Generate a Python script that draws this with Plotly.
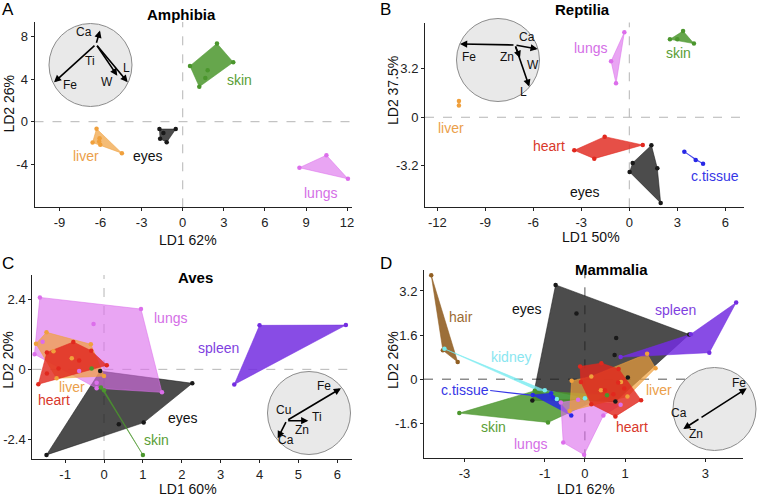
import plotly.graph_objects as go

W, H = 757, 497
FONT = "Liberation Sans, Arial, sans-serif"

# ---------------- DATA (LD1, LD2 scores; polygon vertices + interior points) -------------
# Amphibia
amph_liver = [(-6.29, -0.66), (-4.44, -2.95), (-6.58, -1.95)]
amph_liver_in = [(-6.07, -1.54), (-6.02, -2.17), (-6.1, -1.85)]
amph_eyes = [(-1.70, -0.69), (-0.51, -0.69), (-1.17, -1.92), (-1.65, -1.60)]
amph_eyes_in = [(-1.41, -1.07)]
amph_skin = [(0.53, 5.22), (2.50, 7.33), (3.69, 5.57), (1.21, 3.27)]
amph_skin_in = [(1.82, 4.81), (1.65, 4.09)]
amph_lungs = [(8.52, -4.31), (10.49, -3.14), (12.06, -5.35)]

# Reptilia
rept_liver = [(-10.65, 1.08), (-10.65, 0.78)]
rept_lungs = [(-0.31, 5.61), (-1.14, 3.69), (-0.83, 2.24)]
rept_skin = [(2.54, 5.14), (3.36, 5.69), (4.04, 4.86)]
rept_skin_in = [(3.00, 5.14)]
rept_heart = [(-3.44, -2.18), (-1.54, -1.28), (0.84, -1.83), (-2.19, -2.73)]
rept_eyes = [(1.38, -1.85), (1.75, -3.36), (1.96, -5.65), (0.02, -3.61), (0.21, -3.01)]
rept_ctissue = [(3.44, -2.27), (4.15, -2.82), (4.61, -3.06)]

# Aves
aves_lungs = [(-1.65, 2.47), (0.95, 2.07), (1.49, -0.79), (-0.19, -0.65), (-1.79, 0.52)]
aves_lungs_in = [(-0.27, 1.56), (-1.58, 0.95), (-0.19, -0.46), (-0.64, -0.06)]
aves_liver = [(-1.48, 1.27), (-0.34, 0.86), (0.00, -0.23), (-1.22, -0.31), (-1.75, 0.88)]
aves_liver_in = [(-0.83, 0.38), (-1.30, 0.62)]
aves_heart = [(-1.69, -0.51), (-1.47, 0.58), (-0.79, 0.94), (-0.33, 0.64), (0.07, 0.14)]
aves_heart_in = [(-1.47, -0.14), (-1.17, 0.03), (-0.64, 0.30)]
aves_eyes = [(-1.48, -2.94), (1.02, -1.83), (2.27, -0.48), (-0.10, -0.06)]
aves_eyes_in = [(0.38, -1.89)]
aves_spleen = [(4.00, 1.51), (6.22, 1.52), (3.35, -0.52)]
aves_skin = [(-0.08, -0.62), (1.00, -2.94), (0.00, -0.72)]
aves_skin_in = [(-0.32, 0.03)]

# Mammalia
mamm_eyes = [(-0.73, 3.42), (2.60, 1.62), (0.76, -0.81), (-1.31, -0.77)]
mamm_eyes_in = [(-0.21, 2.38), (0.78, 1.49), (0.74, 0.88), (1.07, 0.06)]
mamm_hair = [(-3.83, 3.77), (-3.17, 0.62), (-3.54, 1.05)]
mamm_kidney = [(-3.50, 1.10), (-1.00, -0.40), (0.00, -0.69), (-0.70, -0.72)]
mamm_skin = [(-3.13, -1.23), (-1.25, -0.42), (0.55, -0.58), (-0.92, -1.57)]
mamm_ctissue = [(-1.30, -0.57), (-0.84, -0.51), (-0.34, -1.32)]
mamm_ctissue_in = [(-0.80, -0.66)]
mamm_lungs = [(-0.60, -0.85), (-0.17, -0.75), (0.89, -0.93), (0.46, -1.32), (-0.02, -2.74), (-0.54, -2.30)]
mamm_liver = [(-0.33, -0.06), (0.16, 0.10), (1.55, 0.92), (1.76, 0.40), (1.06, -0.63), (-0.38, -1.15)]
mamm_liver_in = [(0.40, -0.40), (0.90, -0.10)]
mamm_heart = [(-0.12, 0.46), (0.41, 0.58), (0.84, 0.37), (1.40, -0.76), (0.76, -1.35), (0.16, -0.91), (-0.10, -0.10)]
mamm_heart_in = [(0.50, -0.40), (0.83, -0.12), (0.98, -0.34), (0.71, -0.55)]
mamm_spleen = [(0.89, 0.80), (2.64, 1.63), (3.77, 2.78), (3.10, 0.96)]

# Tick values
amph_xticks = [-9, -6, -3, 0, 3, 6, 9, 12]
amph_yticks = [-4, 0, 4, 8]
rept_xticks = [-12, -9, -6, -3, 0, 3, 6]
rept_yticks = [-3.2, 0, 3.2]
aves_xticks = [-1, 0, 1, 2, 3, 4, 5, 6]
aves_yticks = [-2.4, 0, 2.4]
mamm_xticks = [-3, -1, 0, 1, 3]
mamm_yticks = [-1.6, 0, 1.6, 3.2]

# Loading arrows in insets (element, tip offset from origin in px)
amph_load = [("Ca", 4, -13.8), ("Fe", -42, 38), ("W", 21.3, 31.4), ("L", 31.7, 38)]
rept_load = [("Fe", -55, -1), ("W", 22.7, 4), ("L", 14.3, 41.7), ("Zn", 5, 13)]
aves_load = [("Fe", 54.3, -32.4), ("Ti", 21.6, 0), ("Ca", -9, 17.6)]
mamm_load = [("Fe", 46.7, -30), ("Ca", -16.7, 10.7)]

# ---------------- STYLE ----------------
BASE = {
    "skin": (75, 150, 45), "eyes": (25, 25, 25), "liver": (240, 160, 60),
    "lungs": (220, 110, 235), "heart": (225, 40, 30), "c.tissue": (40, 40, 230),
    "spleen": (115, 45, 225), "hair": (145, 95, 35), "kidney": (120, 235, 240),
}
LABEL_COL = {
    "skin": "#5a9e35", "eyes": "#111111", "liver": "#eba04a", "lungs": "#d46ee6",
    "heart": "#d9382b", "c.tissue": "#3636e6", "spleen": "#7f3fe0", "hair": "#9c6b32",
    "kidney": "#8ae6f0",
}
ALPHA = {"eyes": 0.78, "lungs": 0.62, "liver": 0.7, "heart": 0.82, "skin": 0.85,
         "spleen": 0.85, "c.tissue": 0.85, "hair": 0.9, "kidney": 0.8}


def rgba(name, a):
    r, g, b = BASE[name]
    return f"rgba({r},{g},{b},{a})"


def px(x):
    return x / W


def py(y):
    return 1 - y / H


def fmt(v):
    return f"{v:g}"


def label(x, y, text, size, color, xref="paper", yref="paper", angle=0):
    return dict(x=x, y=y, xref=xref, yref=yref, text=text, showarrow=False,
                xanchor="center", yanchor="middle", textangle=angle,
                font=dict(family=FONT, size=size, color=color))


panels = [
    dict(title="Amphibia", letter="A", box=(34.5, 352.3, 22, 207.3),
         xr=[-10.82, 12.38], yr=[-8.02, 9.34], xt=amph_xticks, yt=amph_yticks,
         groups=[("liver", amph_liver, amph_liver_in), ("eyes", amph_eyes, amph_eyes_in),
                 ("skin", amph_skin, amph_skin_in), ("lungs", amph_lungs, [])],
         labels={"skin": (4.18, 3.91), "liver": (-7.08, -3.21), "eyes": (-2.55, -3.21),
                 "lungs": (10.07, -6.65)},
         title_pos=(181.7, 14.5), letter_pos=(7.5, 9),
         xlab="LD1 62%", xlab_pos=(188.3, 240), ylab="LD2 26%", ylab_pos=(9.3, 103.3),
         dash="#b5b5b5",
         inset=dict(c=(90.5, 65), r=41.5, o=(96, 44.3), load=amph_load,
                    text=[("Ca", 84.3, 31.7), ("Ti", 90, 61), ("Fe", 70, 85),
                          ("W", 107.3, 82.3), ("L", 126, 67.7)])),
    dict(title="Reptilia", letter="B", box=(425, 743.7, 22.5, 207.3),
         xr=[-12.77, 7.15], yr=[-5.94, 6.25], xt=rept_xticks, yt=rept_yticks,
         groups=[("liver", rept_liver, []), ("lungs", rept_lungs, []),
                 ("skin", rept_skin, rept_skin_in), ("heart", rept_heart, []),
                 ("eyes", rept_eyes, []), ("c.tissue", rept_ctissue, [])],
         labels={"lungs": (-2.41, 4.55), "skin": (3.09, 4.22), "liver": (-11.13, -0.69),
                 "heart": (-5.04, -1.87), "eyes": (-2.77, -4.91), "c.tissue": (5.34, -3.85)},
         title_pos=(582, 9), letter_pos=(385, 9),
         xlab="LD1 50%", xlab_pos=(590.7, 237), ylab="LD2 37.5%", ylab_pos=(393, 90),
         dash="#b5b5b5",
         inset=dict(c=(498, 60), r=41.5, o=(515, 45), load=rept_load,
                    text=[("Ca", 527.3, 37.3), ("Fe", 469.3, 56.7), ("Zn", 507.3, 56.7),
                          ("W", 532.7, 65), ("L", 523.3, 92.3)])),
    dict(title="Aves", letter="C", box=(32.3, 351.7, 275, 459),
         xr=[-1.845, 6.37], yr=[-3.08, 3.24], xt=aves_xticks, yt=aves_yticks,
         groups=[("eyes", aves_eyes, aves_eyes_in), ("lungs", aves_lungs, aves_lungs_in),
                 ("liver", aves_liver, aves_liver_in), ("heart", aves_heart, aves_heart_in),
                 ("spleen", aves_spleen, []), ("skin", aves_skin, aves_skin_in)],
         labels={"lungs": (1.72, 1.75), "spleen": (2.94, 0.74), "liver": (-0.83, -0.60),
                 "heart": (-1.29, -1.07), "eyes": (2.04, -1.66), "skin": (1.34, -2.43)},
         title_pos=(195, 277), letter_pos=(7.5, 263.5),
         xlab="LD1 60%", xlab_pos=(187.7, 488.5), ylab="LD2 20%", ylab_pos=(7.8, 360),
         dash="#b5b5b5",
         inset=dict(c=(309, 413), r=41.5, o=(286.7, 420.7), load=aves_load,
                    text=[("Fe", 324.3, 386), ("Cu", 283.3, 410), ("Ti", 316.7, 417.3),
                          ("Zn", 301.7, 430), ("Ca", 285.7, 440)])),
    dict(title="Mammalia", letter="D", box=(424, 743, 270, 458.3),
         xr=[-4.01, 3.94], yr=[-2.87, 3.96], xt=mamm_xticks, yt=mamm_yticks,
         groups=[("eyes", mamm_eyes, mamm_eyes_in), ("hair", mamm_hair, []),
                 ("kidney", mamm_kidney, []), ("skin", mamm_skin, []),
                 ("c.tissue", mamm_ctissue, mamm_ctissue_in), ("lungs", mamm_lungs, []),
                 ("liver", mamm_liver, mamm_liver_in), ("heart", mamm_heart, mamm_heart_in),
                 ("spleen", mamm_spleen, [])],
         labels={"hair": (-3.08, 2.27), "eyes": (-1.44, 2.55), "spleen": (2.26, 2.52),
                 "kidney": (-1.84, 0.80), "c.tissue": (-2.98, -0.41), "liver": (1.84, -0.39),
                 "skin": (-2.27, -1.72), "heart": (1.17, -1.75), "lungs": (-1.35, -2.35)},
         title_pos=(611.3, 269), letter_pos=(385.5, 263.5),
         xlab="LD1 62%", xlab_pos=(585.7, 488.5), ylab="LD2 26%", ylab_pos=(393, 360),
         dash="#555555",
         inset=dict(c=(714.5, 409), r=41.5, o=(700, 418.3), load=mamm_load,
                    text=[("Fe", 739, 382.7), ("Ca", 679, 413.3), ("Zn", 695.7, 434)])),
]

fig = go.Figure()
annotations = []
shapes = []
layout_axes = {}

for i, p in enumerate(panels):
    n = "" if i == 0 else str(i + 1)
    xa, ya = "x" + n, "y" + n
    l, r, t, b = p["box"]
    common = dict(showline=True, linecolor="#222", linewidth=1, ticks="outside", ticklen=3,
                  tickcolor="#222", showgrid=False, zeroline=False, automargin=False,
                  tickfont=dict(family=FONT, size=13, color="#222"), fixedrange=True)
    layout_axes["xaxis" + n] = dict(domain=[px(l), px(r)], range=p["xr"], anchor=ya,
                                    tickvals=p["xt"], ticktext=[fmt(v) for v in p["xt"]], **common)
    layout_axes["yaxis" + n] = dict(domain=[py(b), py(t)], range=p["yr"], anchor=xa,
                                    tickvals=p["yt"], ticktext=[fmt(v) for v in p["yt"]], **common)

    # dashed zero lines
    shapes.append(dict(type="line", xref=xa, yref=ya + " domain", x0=0, x1=0, y0=0, y1=1,
                       line=dict(color=p["dash"], width=1, dash="dash"), layer="below"))
    shapes.append(dict(type="line", xref=xa + " domain", yref=ya, x0=0, x1=1, y0=0, y1=0,
                       line=dict(color=p["dash"], width=1, dash="dash"), layer="below"))

    # polygons
    for name, poly, inner in p["groups"]:
        xs = [v[0] for v in poly]
        ys = [v[1] for v in poly]
        fig.add_trace(go.Scatter(
            x=xs + [xs[0]], y=ys + [ys[0]], xaxis=xa, yaxis=ya, mode="lines",
            fill="toself", fillcolor=rgba(name, ALPHA[name]),
            line=dict(color=rgba(name, 0.9), width=1.2 if len(poly) < 3 else 0.6),
            hoverinfo="skip", showlegend=False))
    # points
    for name, poly, inner in p["groups"]:
        pts = list(poly) + list(inner)
        fig.add_trace(go.Scatter(
            x=[v[0] for v in pts], y=[v[1] for v in pts], xaxis=xa, yaxis=ya,
            mode="markers", marker=dict(color=rgba(name, 1), size=4.5),
            hoverinfo="skip", showlegend=False))

    # group labels
    for name, (lx, ly) in p["labels"].items():
        annotations.append(label(lx, ly, name, 14, LABEL_COL[name], xref=xa, yref=ya))

    # titles and axis labels
    tx, ty = p["title_pos"]
    annotations.append(label(px(tx), py(ty), "<b>%s</b>" % p["title"], 15, "#000"))
    lx, ly = p["letter_pos"]
    annotations.append(label(px(lx), py(ly), p["letter"], 17, "#000"))
    xx, xy = p["xlab_pos"]
    annotations.append(label(px(xx), py(xy), p["xlab"], 14, "#111"))
    yx, yy = p["ylab_pos"]
    annotations.append(label(px(yx), py(yy), p["ylab"], 14, "#111", angle=-90))

    # inset
    ins = p["inset"]
    cx, cy = ins["c"]
    rr = ins["r"]
    shapes.append(dict(type="circle", xref="paper", yref="paper",
                       x0=px(cx - rr), x1=px(cx + rr), y0=py(cy + rr), y1=py(cy - rr),
                       fillcolor="#e9e9e9", line=dict(color="#8c8c8c", width=1), layer="above"))
    ox, oy = ins["o"]
    for el, dx, dy in ins["load"]:
        annotations.append(dict(x=px(ox + dx), y=py(oy + dy), xref="paper", yref="paper",
                                ax=-dx, ay=-dy, text="", showarrow=True, arrowhead=2,
                                arrowsize=0.9, arrowwidth=1.6, arrowcolor="#000", standoff=0,
                                startstandoff=0, xanchor="center", yanchor="middle"))
    for txt, tx2, ty2 in ins["text"]:
        annotations.append(label(px(tx2), py(ty2), txt, 12, "#111"))

# connector for c.tissue label in Mammalia
shapes.append(dict(type="line", xref="x4", yref="y4", x0=-2.36, y0=-0.41, x1=-1.30, y1=-0.59,
                   line=dict(color=LABEL_COL["c.tissue"], width=1.2)))

fig.update_layout(
    width=W, height=H, margin=dict(l=0, r=0, t=0, b=0, autoexpand=False),
    paper_bgcolor="white", plot_bgcolor="rgba(0,0,0,0)", showlegend=False,
    annotations=annotations, shapes=shapes, **layout_axes)

fig.write_html(
    "out.html",
    config={"displayModeBar": False, "staticPlot": True},
    post_script="document.body.style.margin='0px';"
                "document.documentElement.style.overflow='hidden';")
